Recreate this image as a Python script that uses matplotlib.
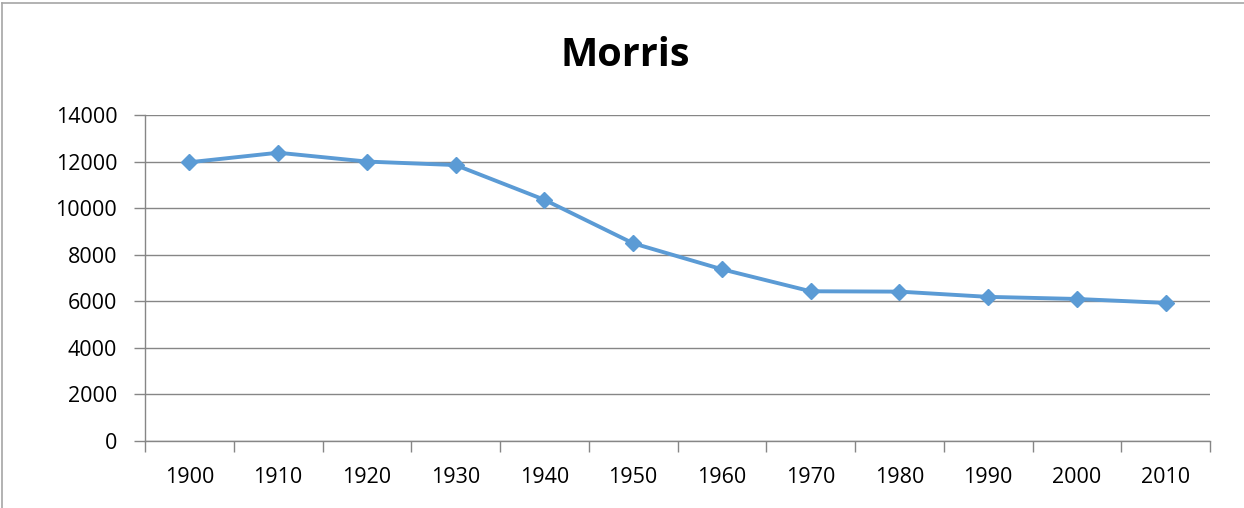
import matplotlib
matplotlib.use('Agg')
import matplotlib.pyplot as plt
from matplotlib.lines import Line2D
import numpy as np

# ----- DATA -----
years = ['1900', '1910', '1920', '1930', '1940', '1950',
         '1960', '1970', '1980', '1990', '2000', '2010']
population = [11970, 12380, 12000, 11850, 10360, 8490,
              7375, 6430, 6415, 6190, 6100, 5930]
y_ticks = [0, 2000, 4000, 6000, 8000, 10000, 12000, 14000]

# ----- STYLE -----
LINE_COLOR = '#5B9BD5'
GRID_COLOR = '#868686'
plt.rcParams['font.family'] = ['Open Sans', 'DejaVu Sans']

W, H = 1244, 508
fig = plt.figure(figsize=(W / 100, H / 100), dpi=100)
ax = fig.add_axes([145 / W, 1 - 441 / H, (1210 - 145) / W, (441 - 115) / H])

x = np.arange(len(years))
ax.plot(x, population, color=LINE_COLOR, lw=2.8, marker='D', ms=8,
        markerfacecolor=LINE_COLOR, markeredgecolor=LINE_COLOR, zorder=3)

ax.set_xlim(-0.5, len(years) - 0.5)
ax.set_ylim(0, 14000)
ax.set_yticks(y_ticks)
ax.set_yticklabels([str(v) for v in y_ticks], fontsize=15.5)
ax.set_xticks(x)
ax.set_xticklabels(years, fontsize=15.5)
ax.set_xticks(np.arange(-0.5, len(years)), minor=True)

ax.grid(axis='y', color=GRID_COLOR, lw=1)
ax.set_axisbelow(True)
ax.tick_params(axis='x', which='major', length=0, pad=19)
ax.tick_params(axis='x', which='minor', length=8, color=GRID_COLOR, width=1)
ax.tick_params(axis='y', length=8, color=GRID_COLOR, width=1, pad=12)

for side in ['top', 'right']:
    ax.spines[side].set_visible(False)
for side in ['left', 'bottom']:
    ax.spines[side].set_color(GRID_COLOR)
    ax.spines[side].set_linewidth(1)

fig.text(625 / W, 1 - 55 / H, 'Morris', ha='center', va='center',
         fontsize=28.5, fontweight='bold')

# chart border (top and left edges visible)
fig.add_artist(Line2D([2 / W, 1], [1 - 3 / H, 1 - 3 / H], color='#A6A6A6', lw=1.2))
fig.add_artist(Line2D([2 / W, 2 / W], [0, 1 - 3 / H], color='#A6A6A6', lw=1.2))

fig.savefig('out.png', dpi=100)
